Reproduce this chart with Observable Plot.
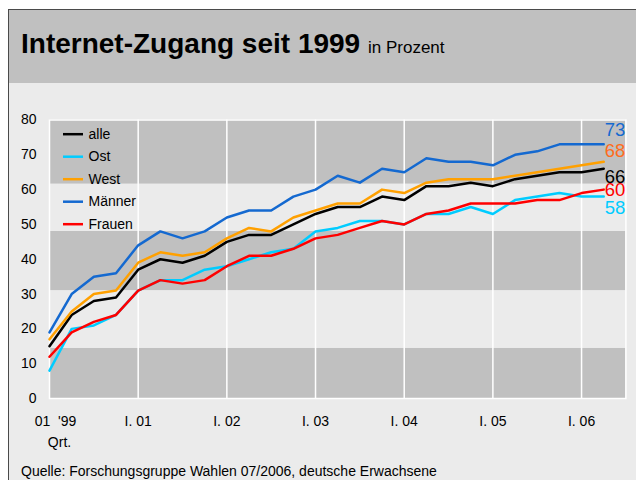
<!DOCTYPE html>
<html>
<head>
<meta charset="utf-8">
<script src="https://cdn.jsdelivr.net/npm/d3@7"></script>
<script src="https://cdn.jsdelivr.net/npm/@observablehq/plot@0.6"></script>
<style>
  html, body { margin:0; padding:0; background:#ffffff; width:636px; height:480px; overflow:hidden; font-family:"Liberation Sans", Arial, sans-serif; }
  #frame { position:absolute; left:8px; top:9px; width:700px; height:500px; border-left:1px solid #4a4a4a; border-top:1px solid #4a4a4a; background:#ebebeb; }
  #header { position:absolute; left:9px; top:10px; width:700px; height:73px; background:#c0c0c0; }
  #title { position:absolute; left:21px; top:30px; line-height:28px; font-size:28px; white-space:nowrap; color:#000; }
  #title b { font-weight:bold; }
  #title span { font-size:17px; font-weight:normal; }
  #chart { position:absolute; left:0; top:83px; }
  #footer { position:absolute; left:21px; top:463px; font-size:14px; line-height:16px; color:#000; white-space:nowrap; }
</style>
</head>
<body>
<div id="frame"></div>
<div id="header"></div>
<div id="title"><b>Internet-Zugang seit 1999 </b><span>in Prozent</span></div>
<div id="chart"></div>
<div id="footer">Quelle: Forschungsgruppe Wahlen 07/2006, deutsche Erwachsene</div>
<script>
// ---- data (quarterly values) ----
const seriesNames = ["alle", "Ost", "West", "Männer", "Frauen"];
const alle   = [15,24,28,29,37,40,39,41,45,47,47,50,53,55,55,58,57,61,61,62,61,63,64,65,65,66];
const ost    = [8,20,21,24,31,34,34,37,38,40,42,43,48,49,51,51,50,53,53,55,53,57,58,59,58,58];
const west   = [17,25,30,31,39,42,41,42,46,49,48,52,54,56,56,60,59,62,63,63,63,64,65,66,67,68];
const maenner= [19,30,35,36,44,48,46,48,52,54,54,58,60,64,62,66,65,69,68,68,67,70,71,73,73,73];
const frauen = [12,19,22,24,31,34,33,34,38,41,41,43,46,47,49,51,50,53,54,56,56,56,57,57,59,60];
const tickIdx    = [0, 4, 8, 12, 16, 20, 24];
const tickLabels = ["01\u00a0\u00a0'99", "I. 01", "I. 02", "I. 03", "I. 04", "I. 05", "I. 06"];
const yTicks = [0,10,20,30,40,50,60,70,80];
const bandLow  = [0, 14.4, 31, 48, 61.6];
const bandHigh = [14.4, 31, 48, 61.6, 80];

// ---- styles ----
const values = [alle, ost, west, maenner, frauen];
const lineColors  = ["#000000", "#00ccff", "#ffa000", "#1469d0", "#ff0000"];
const labelColors = ["#000000", "#00ccff", "#ff6c1c", "#1469d0", "#ff0000"];
const labelDy     = [8, 11, -11, -14, 0];
const dark = "#c0c0c0", light = "#ebebeb";

const W = 636, H = 372, mT = 36.5, mB = 57, mL = 49, mR = 10.6;
const xMax = 26, yMax = 80;
const pxX = (W - mL - mR) / xMax;      // px per x unit
const pxY = (H - mT - mB) / yMax;      // px per y unit
const fromLeft = p => p / pxX;         // px offset from frame left -> x value
const fromTop  = p => yMax - p / pxY;  // px offset from frame top -> y value

const bands = bandLow.map((lo, i) => ({lo, hi: bandHigh[i], k: i}));
const ticks = tickIdx.map((t, i) => ({t, label: tickLabels[i]}));

const marks = [];
marks.push(Plot.rect(bands, {y1: "lo", y2: "hi", fill: d => d.k % 2 === 0 ? dark : light}));
marks.push(Plot.ruleX(tickIdx.slice(1), {stroke: "white", strokeWidth: 1.5}));
marks.push(Plot.frame({stroke: "white", strokeWidth: 1.5}));
values.forEach((vals, s) => {
  marks.push(Plot.line(vals, {x: (d, i) => i, y: d => d, stroke: lineColors[s], strokeWidth: 2.5, strokeLinejoin: "round"}));
});
// end labels
values.forEach((vals, s) => {
  const last = vals.length - 1;
  marks.push(Plot.text([vals[last]], {x: last, y: d => d, text: d => String(d), textAnchor: "start", dx: 1, dy: labelDy[s], fill: labelColors[s], fontSize: 18.5, lineAnchor: "middle"}));
});
// legend
seriesNames.forEach((name, k) => {
  const yv = fromTop(14.2 + 22.5 * k);
  marks.push(Plot.ruleY([yv], {x1: fromLeft(14), x2: fromLeft(34), stroke: lineColors[k], strokeWidth: 2.5}));
  marks.push(Plot.text([name], {x: fromLeft(39), y: yv, text: d => d, textAnchor: "start", lineAnchor: "middle", fontSize: 14, fill: "#000"}));
});
// axes
marks.push(Plot.axisY({ticks: yTicks, tickSize: 0, tickPadding: 13, fontSize: 14, label: null}));
marks.push(Plot.text(ticks.slice(0, 1), {x: "t", text: "label", frameAnchor: "bottom", dy: 23, dx: 6, lineAnchor: "middle", fontSize: 14, fill: "#000"}));
marks.push(Plot.text(ticks.slice(1), {x: "t", text: "label", frameAnchor: "bottom", dy: 23, lineAnchor: "middle", fontSize: 14, fill: "#000"}));
marks.push(Plot.text(["Qrt."], {frameAnchor: "bottom-left", dx: 10, dy: 44, lineAnchor: "middle", textAnchor: "middle", fontSize: 14, fill: "#000"}));

const chart = Plot.plot({
  width: W, height: H,
  marginTop: mT, marginBottom: mB, marginLeft: mL, marginRight: mR,
  x: {domain: [0, xMax], axis: null},
  y: {domain: [0, yMax], axis: null},
  style: {background: "transparent", fontFamily: "Liberation Sans, Arial, sans-serif", color: "#000", overflow: "visible"},
  marks
});
document.getElementById("chart").appendChild(chart);
</script>
</body>
</html>
